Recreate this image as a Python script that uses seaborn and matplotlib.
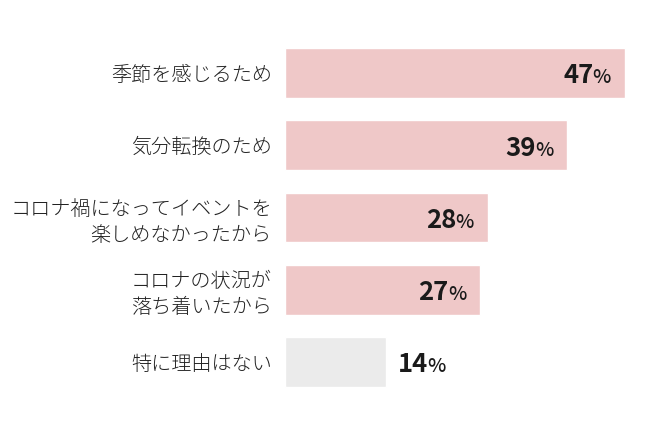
import matplotlib
matplotlib.use("Agg")
import matplotlib.pyplot as plt
import seaborn as sns
import pandas as pd

categories = ["季節を感じるため", "気分転換のため", "コロナ禍になってイベントを\n楽しめなかったから",
              "コロナの状況が\n落ち着いたから", "特に理由はない"]
values = [47, 39, 28, 27, 14]
bar_colors = ["#efc8c8", "#efc8c8", "#efc8c8", "#efc8c8", "#ebebeb"]

sns.set_theme(style="white")
plt.rcParams['font.family'] = ['Noto Sans CJK JP', 'DejaVu Sans']

df = pd.DataFrame({"cat": categories, "val": values})

fig = plt.figure(figsize=(6.5, 4.25), dpi=100)
ax = fig.add_axes([285/650, 0.0633, 50*7.234/650, 0.85])
sns.barplot(data=df, x="val", y="cat", hue="cat", palette=bar_colors, legend=False,
            orient="h", width=0.69, ax=ax, saturation=1)
ax.set_xlim(0, 50)
ax.set_ylim(4.5, -0.5)
ax.set_xlabel("")
ax.set_ylabel("")
ax.set_xticks([])
for s in ax.spines.values():
    s.set_visible(False)
ax.tick_params(axis="y", length=0, pad=9.5)
for lab in ax.get_yticklabels():
    lab.set_fontsize(14.5)
    lab.set_fontweight("light")
    lab.set_color("#222222")
    lab.set_linespacing(1.3)
    lab.set_ha("right")

fig.canvas.draw()
renderer = fig.canvas.get_renderer()

NUM_FS = 18.5
PCT_FS = 14
BASE = -7.5
for i, v in enumerate(values):
    inside = v > 20
    num = str(v)
    tmp_n = ax.text(0, 0, num, fontsize=NUM_FS, fontweight="bold")
    tmp_p = ax.text(0, 0, "%", fontsize=PCT_FS, fontweight="medium")
    wn = tmp_n.get_window_extent(renderer).width * 72 / fig.dpi
    wp = tmp_p.get_window_extent(renderer).width * 72 / fig.dpi
    tmp_n.remove(); tmp_p.remove()
    if inside:
        xp = -10
        xn = xp - wp + 0.5
        ax.annotate("%", xy=(v, i), xytext=(xp, BASE), textcoords="offset points",
                    ha="right", va="baseline", fontsize=PCT_FS, fontweight="medium", color="#1a1a1a")
        ax.annotate(num, xy=(v, i), xytext=(xn, BASE), textcoords="offset points",
                    ha="right", va="baseline", fontsize=NUM_FS, fontweight="bold", color="#1a1a1a")
    else:
        xn = 8.5
        xp = xn + wn - 0.5
        ax.annotate(num, xy=(v, i), xytext=(xn, BASE), textcoords="offset points",
                    ha="left", va="baseline", fontsize=NUM_FS, fontweight="bold", color="#1a1a1a")
        ax.annotate("%", xy=(v, i), xytext=(xp, BASE), textcoords="offset points",
                    ha="left", va="baseline", fontsize=PCT_FS, fontweight="medium", color="#1a1a1a")

fig.savefig("out.png", dpi=100)
